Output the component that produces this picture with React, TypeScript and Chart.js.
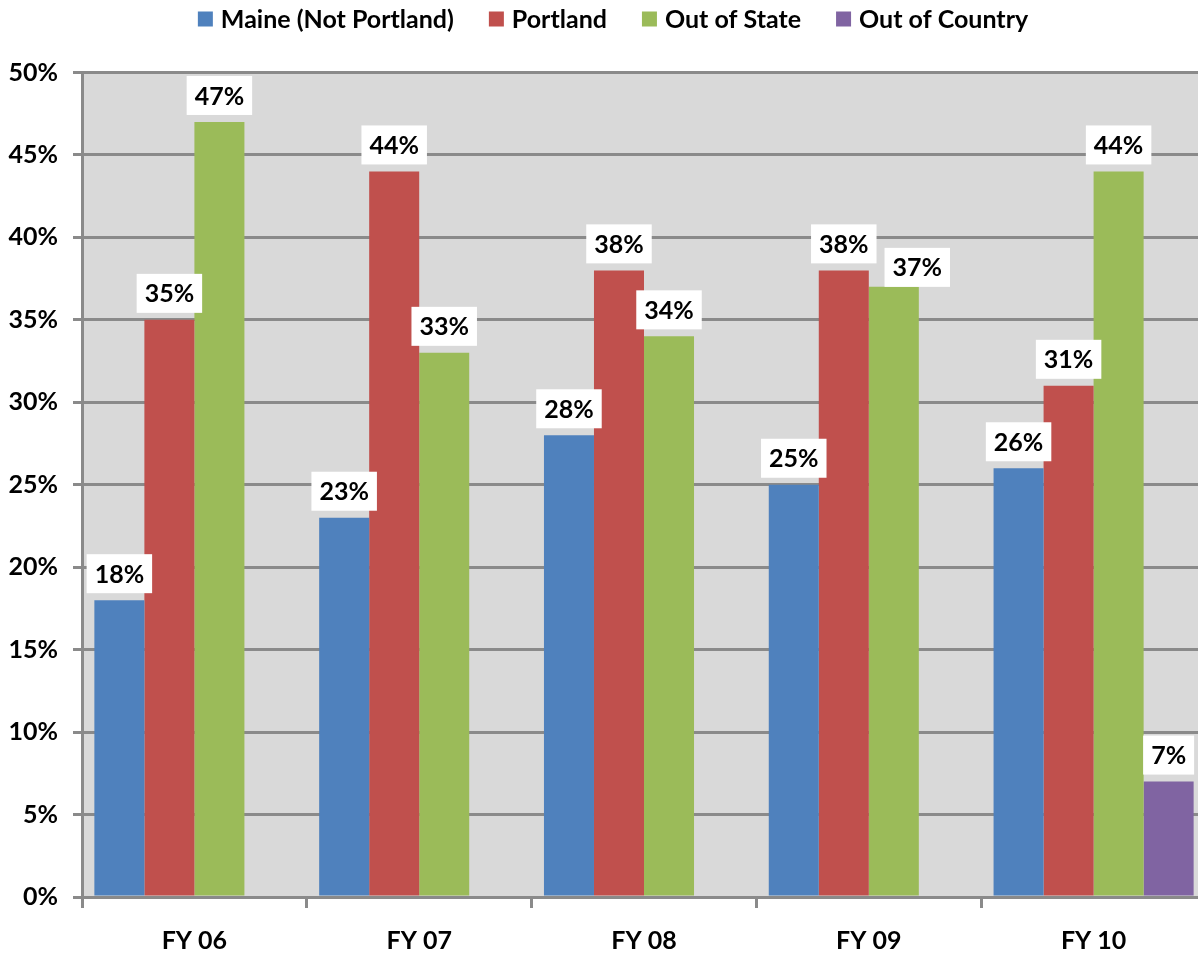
import React, { useEffect, useRef } from "react";
import { Chart, registerables } from "chart.js";

Chart.register(...registerables);

const categories = ["FY 06", "FY 07", "FY 08", "FY 09", "FY 10"];
const seriesNames = ["Maine (Not Portland)", "Portland", "Out of State", "Out of Country"];
const maineValues = [18, 23, 28, 25, 26];
const portlandValues = [35, 44, 38, 38, 31];
const outOfStateValues = [47, 33, 34, 37, 44];
const outOfCountryValues = [null, null, null, null, 7];
const seriesColors = ["#4F81BD", "#C0504D", "#9BBB59", "#8064A2"];

const FONT = "Lato";
const FONT_SIZE = 25;
const GRID = "#8A8A8A";

const bgPlugin = {
  id: "plotBg",
  beforeDraw(chart: any) {
    const { ctx, chartArea, width, height } = chart;
    ctx.save();
    ctx.fillStyle = "#FFFFFF";
    ctx.fillRect(0, 0, width, height);
    ctx.fillStyle = "#D9D9D9";
    ctx.fillRect(chartArea.left, chartArea.top, chartArea.right - chartArea.left, chartArea.bottom - chartArea.top);
    ctx.restore();
  },
};

const legendPlugin = {
  id: "topLegend",
  afterDraw(chart: any) {
    const { ctx } = chart;
    ctx.save();
    ctx.font = `bold ${FONT_SIZE}px ${FONT}`;
    const box = 15;
    const gap = 8;
    const itemGap = 35;
    const items = chart.data.datasets.map((ds: any) => ({
      text: ds.label,
      color: ds.backgroundColor,
      w: ctx.measureText(ds.label).width,
    }));
    const total = items.reduce((s: number, it: any) => s + box + gap + it.w, 0) + itemGap * (items.length - 1);
    let x = 613 - total / 2;
    const cy = 19;
    items.forEach((it: any) => {
      ctx.fillStyle = it.color;
      ctx.fillRect(x, cy - box / 2, box, box);
      x += box + gap;
      ctx.fillStyle = "#000000";
      ctx.textAlign = "left";
      ctx.textBaseline = "middle";
      ctx.fillText(it.text, x, cy + 1);
      x += it.w + itemGap;
    });
    ctx.restore();
  },
};

const labelPlugin = {
  id: "valueLabels",
  afterDatasetsDraw(chart: any) {
    const { ctx } = chart;
    ctx.save();
    ctx.font = `bold ${FONT_SIZE}px ${FONT}`;
    const placed: { l: number; r: number; t: number; b: number }[] = [];
    const overlaps = (a: any) =>
      placed.find((p) => a.l < p.r && a.r > p.l && a.t < p.b && a.b > p.t);
    chart.data.datasets.forEach((ds: any, i: number) => {
      const meta = chart.getDatasetMeta(i);
      meta.data.forEach((el: any, j: number) => {
        const v = ds.data[j];
        if (v === null || v === undefined) return;
        const text = `${v}%`;
        const tw = ctx.measureText(text).width;
        const w = tw + 16;
        const h = 39;
        let rect = { l: el.x - w / 2, r: el.x + w / 2, t: el.y - 7 - h, b: el.y - 7 };
        const hit = overlaps(rect);
        if (hit) {
          const l = hit.r + 8;
          rect = { l, r: l + w, t: el.y - h, b: el.y };
        }
        placed.push(rect);
        ctx.fillStyle = "#FFFFFF";
        ctx.fillRect(rect.l, rect.t, w, h);
        ctx.fillStyle = "#000000";
        ctx.textAlign = "center";
        ctx.textBaseline = "middle";
        ctx.fillText(text, (rect.l + rect.r) / 2, (rect.t + rect.b) / 2 + 1);
      });
    });
    ctx.restore();
  },
};

export default function App() {
  const ref = useRef<HTMLCanvasElement | null>(null);
  useEffect(() => {
    if (!ref.current) return;
    const values = [maineValues, portlandValues, outOfStateValues, outOfCountryValues];
    const chart = new Chart(ref.current, {
      type: "bar",
      data: {
        labels: categories,
        datasets: seriesNames.map((name, i) => ({
          label: name,
          data: values[i] as any,
          backgroundColor: seriesColors[i],
          borderWidth: 0,
          categoryPercentage: 0.89,
          barPercentage: 1,
        })),
      },
      options: {
        responsive: false,
        animation: false,
        devicePixelRatio: 1,
        layout: { padding: { top: 72.5, left: 0, right: 0, bottom: 0 } },
        plugins: {
          legend: { display: false },
          tooltip: { enabled: false },
        },
        scales: {
          x: {
            grid: {
              offset: true,
              drawOnChartArea: false,
              drawTicks: true,
              tickLength: 11,
              lineWidth: 3,
              color: GRID,
            },
            border: { display: true, color: GRID, width: 3 },
            ticks: {
              color: "#000000",
              padding: 18,
              font: { family: FONT, size: FONT_SIZE, weight: "bold" },
            },
            afterFit: (s: any) => {
              s.height = 59;
            },
          },
          y: {
            min: 0,
            max: 50,
            grid: {
              color: GRID,
              lineWidth: 3,
              tickLength: 9,
              drawTicks: true,
            },
            border: { display: true, color: GRID, width: 3 },
            ticks: {
              stepSize: 5,
              color: "#000000",
              padding: 15,
              font: { family: FONT, size: FONT_SIZE, weight: "bold" },
              callback: (v: any) => `${v}%`,
            },
            afterFit: (s: any) => {
              s.width = 82;
            },
          },
        },
      },
      plugins: [bgPlugin, labelPlugin, legendPlugin],
    });
    return () => chart.destroy();
  }, []);
  return (
    <div style={{ position: "fixed", left: 0, top: 0, width: 1198, height: 956, overflow: "hidden", background: "#fff" }}>
      <canvas ref={ref} width={1206} height={956} style={{ display: "block", width: 1206, height: 956 }} />
    </div>
  );
}
